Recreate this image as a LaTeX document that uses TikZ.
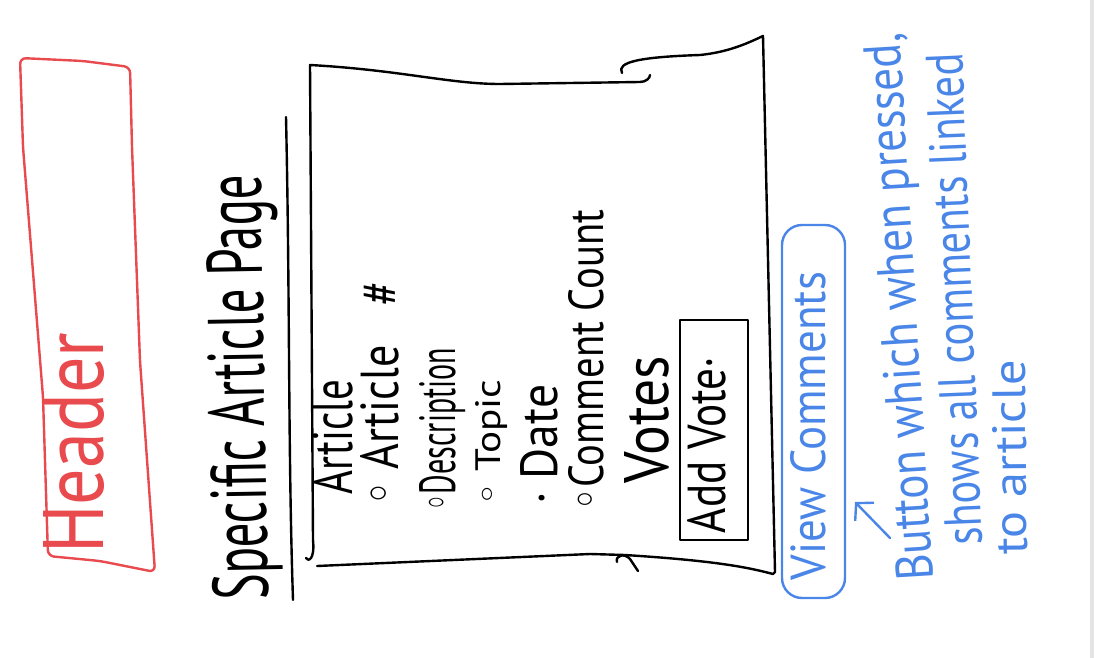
\documentclass[tikz,border=0pt]{standalone}
\usepackage{fontspec}
\usepackage{graphicx}
\setmainfont{PT Sans}
\newfontfamily\symf{DejaVu Sans}
\usetikzlibrary{arrows.meta,positioning}
\definecolor{penred}{RGB}{232,74,78}
\definecolor{penblue}{RGB}{74,134,232}
\definecolor{edgegray}{RGB}{228,228,228}
\newcommand{\hand}[3]{\resizebox{#1pt}{#2pt}{#3}}
\newcommand{\bul}{{\symf ◦}}
\tikzset{
  ink/.style={line width=2.4pt, line cap=round, line join=round},
  txt/.style={inner sep=0pt, anchor=base west},
  btnbox/.style={draw, ink, rotate=90, inner sep=0pt},
}
\begin{document}
\begin{tikzpicture}[x=1pt,y=-1pt]
\useasboundingbox (0,0) rectangle (1094,658);
\fill[edgegray] (1090,0) rectangle (1094,658);

% header strip
\draw[ink, penred, rounded corners=6pt] (20,58) -- (83,61) -- (130,67) -- (132,147) -- (140,361) -- (155,572) -- (100,561) -- (48,556) -- (43,397) -- (23,147) -- cycle;
\node[txt, penred, rotate=90] (header) at (103,554) {\hand{221}{60}{Header}};

% page title
\node[txt, rotate=91] (title) at (268,600) {\hand{425}{56}{Specific Article Page}};
\draw[ink] (286,117) .. controls (290,300) and (288,450) .. (293,600);

% article box
\draw[ink] (306,558) .. controls (308,562) and (315,560) .. (313,540) -- (310,65) .. controls (400,70) and (450,84) .. (500,84) -- (640,82) .. controls (646,82) and (650,78) .. (650,75);
\draw[ink] (622,73) .. controls (616,62) and (640,57) .. (700,55) .. controls (730,52) and (750,42) .. (763,36) -- (775,572) -- (773,574) .. controls (750,568) and (720,561) .. (625,555) -- (590,554) -- (317,566);
\draw[ink] (638,571) -- (630,559) .. controls (625,553) and (615,555) .. (617,562);

% article fields
\node[txt, rotate=90] (arthead) at (352,495) {\hand{115}{40}{Article}};
\node[txt, rotate=90] (artnum) at (398,507) {\hand{225}{38}{\bul\ Article\hspace{0.9em}\#}};
\node[txt, rotate=90] (artdesc) at (455,512) {\hand{164}{36}{\bul Description}};
\node[txt, rotate=90] (arttopic) at (500,507) {\hand{127}{25}{\bul\ Topic}};
\node[txt, rotate=90] (artdate) at (557,505) {\hand{120}{37}{· Date}};
\node[txt, rotate=90] (artcount) at (603,512) {\hand{302}{35}{\bul Comment Count}};
\node[txt, rotate=90] (votes) at (668,484) {\hand{128}{44}{Votes}};

% buttons
\node[btnbox, minimum width=220pt, minimum height=68pt, text depth=16pt] (addvote) at (714,430) {\hand{176}{38}{Add Vote·}\hspace*{30pt}};
\node[btnbox, penblue, rounded corners=20pt, minimum width=373pt, minimum height=63pt, text depth=12pt] (viewbtn) at (813.5,411.5) {\hand{308}{35}{View Comments}\hspace*{29pt}};

% note on the button
\node[txt, penblue, rotate=93.5] (note1) at (933,580) {\hand{548}{37}{Button which when pressed,}};
\node[txt, penblue, rotate=92.3] (note2) at (982,545) {\hand{492}{37}{shows all comments linked}};
\node[txt, penblue, rotate=90.5] (note3) at (1027,555) {\hand{195}{33}{to article}};
\coordinate (arrtail) at (890,538);
\coordinate (arrtip) at (855,502);
\draw[ink, penblue, -{Straight Barb[length=12pt,width=26pt]}] (arrtail) -- (arrtip);
\end{tikzpicture}
\end{document}
